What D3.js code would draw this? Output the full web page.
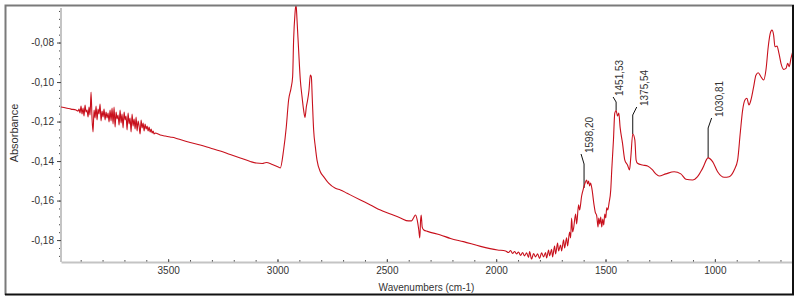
<!DOCTYPE html>
<html>
<head>
<meta charset="utf-8">
<script src="https://cdn.jsdelivr.net/npm/d3@7"></script>
<style>
body { margin: 0; background: #fff; }
svg { display: block; font-family: "Liberation Sans", Arial, sans-serif; }
</style>
</head>
<body>
<script>
const svgWidth = 799
const svgHeight = 301

const margin = {
    top: 6,
    right: 7,
    bottom: 39,
    left: 61
    }

const chartWidth = svgWidth - margin.left - margin.right
const chartHeight = svgHeight - margin.top - margin.bottom

// spectrum (cm-1 / absorbance)
const wavenumbers = [
    3990.0, 3967.1, 3944.2, 3921.3, 3912.1, 3907.6, 3903.0, 3898.4, 3893.8, 3889.2,
    3884.7, 3880.1, 3875.5, 3870.9, 3866.3, 3861.8, 3857.2, 3852.6, 3848.0, 3843.5,
    3838.9, 3834.3, 3829.7, 3825.1, 3820.6, 3816.0, 3811.4, 3806.8, 3802.2, 3797.6,
    3793.1, 3788.5, 3783.9, 3779.4, 3774.8, 3770.2, 3765.6, 3761.0, 3756.5, 3751.9,
    3747.3, 3742.7, 3738.1, 3733.6, 3729.0, 3724.4, 3719.8, 3715.2, 3710.7, 3706.1,
    3701.5, 3696.9, 3692.4, 3687.8, 3683.2, 3678.6, 3674.0, 3669.5, 3664.9, 3660.3,
    3655.7, 3651.1, 3646.6, 3642.0, 3637.4, 3632.8, 3628.2, 3623.7, 3619.1, 3614.5,
    3609.9, 3605.4, 3600.8, 3596.2, 3591.6, 3587.0, 3582.5, 3577.9, 3573.3, 3568.7,
    3564.1, 3559.6, 3536.7, 3513.8, 3490.9, 3468.0, 3445.1, 3399.3, 3353.5, 3307.7,
    3261.9, 3216.1, 3170.3, 3124.5, 3097.1, 3069.6, 3051.3, 3023.8, 2996.3, 2987.2,
    2972.1, 2959.7, 2949.2, 2938.2, 2930.8, 2926.3, 2919.9, 2915.3, 2910.7, 2903.4,
    2895.6, 2887.8, 2880.5, 2874.1, 2868.1, 2862.2, 2855.8, 2849.9, 2845.3, 2840.7,
    2834.7, 2827.1, 2819.3, 2804.2, 2789.1, 2766.2, 2735.3, 2712.4, 2681.8, 2651.6,
    2620.9, 2575.1, 2529.3, 2483.5, 2437.7, 2401.1, 2387.3, 2378.2, 2369.0, 2361.2,
    2353.9, 2349.3, 2346.1, 2342.9, 2338.3, 2331.0, 2314.1, 2254.6, 2208.8, 2149.3,
    2071.6, 1993.7, 1957.1, 1943.4, 1934.1, 1925.1, 1915.9, 1906.8, 1897.6, 1888.4,
    1879.3, 1870.2, 1861.0, 1851.9, 1847.3, 1838.1, 1829.0, 1819.8, 1810.7, 1801.5,
    1792.4, 1783.2, 1774.1, 1769.5, 1760.4, 1755.8, 1746.6, 1742.0, 1732.9, 1728.3,
    1719.2, 1714.6, 1705.5, 1700.9, 1691.7, 1687.1, 1678.0, 1673.4, 1664.3, 1659.7,
    1655.1, 1650.5, 1645.9, 1636.8, 1632.2, 1623.1, 1618.5, 1609.3, 1600.2, 1593.4,
    1586.5, 1582.0, 1577.4, 1572.8, 1568.3, 1561.4, 1552.6, 1547.1, 1540.2, 1534.3,
    1531.0, 1526.4, 1521.9, 1517.3, 1512.7, 1508.1, 1503.5, 1499.0, 1494.4, 1489.8,
    1483.8, 1476.1, 1471.5, 1463.7, 1457.7, 1451.5, 1445.4, 1439.3, 1433.4, 1422.4,
    1411.8, 1399.5, 1390.3, 1384.3, 1375.5, 1366.0, 1360.1, 1353.7, 1330.8, 1307.9,
    1285.0, 1269.9, 1254.8, 1224.2, 1186.1, 1155.6, 1132.7, 1102.0, 1079.1, 1056.2,
    1030.8, 1010.4, 987.5, 957.2, 934.4, 911.5, 895.9, 884.0, 873.0, 862.5,
    853.4, 844.2, 835.1, 822.7, 812.2, 801.7, 789.3, 777.0, 766.4, 755.9,
    746.8, 739.1, 731.3, 725.2, 716.0, 706.9, 697.7, 685.4, 674.8, 667.1,
    659.8, 652.0, 644.2
]

const absorbance = [
    -0.1126, -0.1131, -0.1137, -0.1142, -0.1147, -0.1137, -0.1157, -0.1121, -0.1162, -0.1131,
    -0.1172, -0.1116, -0.1152, -0.1142, -0.1177, -0.1126, -0.1167, -0.1051, -0.1187, -0.1253,
    -0.1142, -0.1182, -0.1121, -0.1192, -0.1137, -0.1162, -0.1111, -0.1197, -0.1147, -0.1177,
    -0.1137, -0.1192, -0.1152, -0.1182, -0.1157, -0.1202, -0.1142, -0.1197, -0.1131, -0.1212,
    -0.1126, -0.1228, -0.1152, -0.1187, -0.1167, -0.1218, -0.1142, -0.1207, -0.1162, -0.1233,
    -0.1152, -0.1192, -0.1172, -0.1243, -0.1157, -0.1212, -0.1182, -0.1253, -0.1162, -0.1223,
    -0.1187, -0.1238, -0.1177, -0.1248, -0.1197, -0.1223, -0.1263, -0.1192, -0.1233, -0.1207,
    -0.1248, -0.1212, -0.1238, -0.1223, -0.1248, -0.1228, -0.1253, -0.1238, -0.1258, -0.1248,
    -0.1263, -0.1258, -0.1268, -0.1273, -0.1278, -0.1283, -0.1291, -0.1306, -0.1319, -0.1334,
    -0.1349, -0.1367, -0.1384, -0.1402, -0.1410, -0.1412, -0.1407, -0.1417, -0.1430, -0.1435,
    -0.1344, -0.1226, -0.1091, -0.1032, -0.0973, -0.0787, -0.0652, -0.0605, -0.0686, -0.0838,
    -0.0990, -0.1074, -0.1142, -0.1179, -0.1125, -0.1091, -0.1040, -0.0965, -0.0973, -0.1091,
    -0.1243, -0.1327, -0.1395, -0.1454, -0.1479, -0.1512, -0.1538, -0.1546, -0.1563, -0.1580,
    -0.1597, -0.1622, -0.1648, -0.1668, -0.1688, -0.1703, -0.1703, -0.1688, -0.1673, -0.1698,
    -0.1749, -0.1789, -0.1708, -0.1673, -0.1734, -0.1749, -0.1756, -0.1774, -0.1792, -0.1808,
    -0.1832, -0.1850, -0.1855, -0.1863, -0.1853, -0.1868, -0.1858, -0.1870, -0.1860, -0.1878,
    -0.1863, -0.1880, -0.1865, -0.1888, -0.1858, -0.1896, -0.1868, -0.1885, -0.1870, -0.1893,
    -0.1865, -0.1885, -0.1863, -0.1891, -0.1850, -0.1880, -0.1847, -0.1885, -0.1830, -0.1870,
    -0.1815, -0.1855, -0.1825, -0.1855, -0.1799, -0.1840, -0.1789, -0.1830, -0.1759, -0.1789,
    -0.1688, -0.1759, -0.1739, -0.1668, -0.1718, -0.1622, -0.1648, -0.1577, -0.1536, -0.1511,
    -0.1496, -0.1516, -0.1501, -0.1526, -0.1511, -0.1546, -0.1622, -0.1658, -0.1678, -0.1734,
    -0.1688, -0.1718, -0.1683, -0.1734, -0.1693, -0.1724, -0.1668, -0.1688, -0.1637, -0.1648,
    -0.1612, -0.1546, -0.1445, -0.1293, -0.1157, -0.1144, -0.1172, -0.1157, -0.1228, -0.1309,
    -0.1395, -0.1420, -0.1445, -0.1379, -0.1263, -0.1293, -0.1395, -0.1411, -0.1420, -0.1425,
    -0.1445, -0.1465, -0.1476, -0.1465, -0.1454, -0.1465, -0.1492, -0.1496, -0.1479, -0.1437,
    -0.1384, -0.1403, -0.1454, -0.1482, -0.1479, -0.1445, -0.1395, -0.1259, -0.1142, -0.1091,
    -0.1082, -0.1116, -0.1091, -0.1024, -0.0965, -0.0953, -0.0973, -0.0990, -0.0939, -0.0821,
    -0.0754, -0.0737, -0.0762, -0.0821, -0.0818, -0.0855, -0.0905, -0.0936, -0.0931, -0.0905,
    -0.0922, -0.0880, -0.0847
]

const yTicks = [-0.18, -0.16, -0.14, -0.12, -0.10, -0.08]
const xTicks = [3500, 3000, 2500, 2000, 1500, 1000]

const peakWavenumbers = [1598.20, 1451.53, 1375.54, 1030.81]
const peakLabels = ["1598,20", "1451,53", "1375,54", "1030,81"]

// leader line shapes for the peak labels (layout only)
const leaderLayout = [
    { top: 164, sx: -3, sy: -10, tx: 5 },
    { top: 102, sx: -3, sy: -5, tx: 3 },
    { top: 115, sx: 4, sy: -8, tx: 12 },
    { top: 128, sx: 3.5, sy: -10, tx: 11 }
]

const fmt = d3.formatLocale({ decimal: ",", thousands: ".", grouping: [3], currency: ["", ""], minus: "-" }).format(".2f")

const svg = d3.select("body").append("svg")
    .attr("height", svgHeight)
    .attr("width", svgWidth)

const x = d3.scaleLinear()
    .domain([3990, 642.7])
    .range([0, chartWidth + 1])

const y = d3.scaleLinear()
    .domain([-0.1911, -0.0615])
    .range([chartHeight, 0])

const chartG = svg.append("g")
    .attr("transform", `translate(${margin.left}, ${margin.top})`)

svg.append("defs").append("clipPath")
    .attr("id", "plotClip")
    .append("rect")
    .attr("x", margin.left)
    .attr("y", margin.top)
    .attr("width", chartWidth + 1)
    .attr("height", chartHeight)

// axes
const yMinor = d3.range(-0.188, -0.0615, 0.004)
const xMinor = d3.range(3900, 650, -100)

chartG.append("g")
    .call(d3.axisLeft(y).tickValues(yMinor).tickSize(2).tickFormat(""))
    .call(g => g.select(".domain").remove())
    .call(g => g.selectAll("line").attr("stroke", "#444"))

const yAxisG = chartG.append("g")
    .call(d3.axisLeft(y).tickValues(yTicks).tickSize(4).tickSizeOuter(0).tickPadding(3).tickFormat(fmt))
yAxisG.select(".domain").attr("stroke", "#c4c4c4").attr("stroke-width", 2)
    .attr("d", `M0,${chartHeight}V2`)
yAxisG.selectAll("line").attr("stroke", "#444")
yAxisG.selectAll("text")
    .attr("font-family", "'Liberation Sans', Arial, sans-serif")
    .attr("font-size", 10)
    .attr("fill", "#333")

chartG.append("g")
    .attr("transform", `translate(0, ${chartHeight})`)
    .call(d3.axisBottom(x).tickValues(xMinor).tickSize(-2).tickFormat(""))
    .call(g => g.select(".domain").remove())
    .call(g => g.selectAll("line").attr("stroke", "#555"))

const xAxisG = chartG.append("g")
    .attr("transform", `translate(0, ${chartHeight})`)
    .call(d3.axisBottom(x).tickValues(xTicks).tickSize(-3).tickSizeOuter(0).tickPadding(5).tickFormat(d3.format("d")))
xAxisG.select(".domain").attr("stroke", "#c4c4c4").attr("stroke-width", 2)
xAxisG.selectAll("line").attr("stroke", "#555")
xAxisG.selectAll("text")
    .attr("font-family", "'Liberation Sans', Arial, sans-serif")
    .attr("font-size", 10)
    .attr("fill", "#333")

// spectrum
const points = wavenumbers.map((w, i) => [w, absorbance[i]])

svg.append("g")
    .attr("clip-path", "url(#plotClip)")
    .append("path")
    .attr("transform", `translate(${margin.left}, ${margin.top})`)
    .attr("d", d3.line().x(d => x(d[0])).y(d => y(d[1])).curve(d3.curveMonotoneX)(points))
    .attr("fill", "none")
    .attr("stroke", "#c8101c")
    .attr("stroke-width", 1.1)

// peak labels
peakWavenumbers.forEach((p, k) => {
    const i = d3.minIndex(wavenumbers, w => Math.abs(w - p))
    const px = x(p)
    const py = y(absorbance[i])
    const lay = leaderLayout[k]
    const ty = lay.top - margin.top
    chartG.append("path")
        .attr("d", `M${px},${py}V${ty}L${px + lay.sx},${ty + lay.sy}`)
        .attr("fill", "none")
        .attr("stroke", "#111")
        .attr("stroke-width", 1)
    chartG.append("text")
        .attr("transform", `translate(${px + lay.tx}, ${ty + lay.sy - 1}) rotate(-90)`)
        .attr("dy", "0.35em")
        .attr("font-size", 10)
        .attr("fill", "#333")
        .text(peakLabels[k])
})

// axis titles
svg.append("text")
    .attr("transform", `translate(14.5, 133) rotate(-90)`)
    .attr("text-anchor", "middle")
    .attr("dy", "0.35em")
    .attr("font-size", 11)
    .attr("fill", "#333")
    .text("Absorbance")

svg.append("text")
    .attr("x", margin.left + chartWidth / 2)
    .attr("y", 290.5)
    .attr("text-anchor", "middle")
    .attr("font-size", 10)
    .attr("fill", "#333")
    .text("Wavenumbers (cm-1)")

// frame
svg.append("path")
    .attr("d", "M5.5,295V5.5H794")
    .attr("fill", "none")
    .attr("stroke", "#7a7a7a")
    .attr("stroke-width", 2)

svg.append("path")
    .attr("d", "M5,294.5H793V5")
    .attr("fill", "none")
    .attr("stroke", "#111")
    .attr("stroke-width", 2)
</script>
</body>
</html>
